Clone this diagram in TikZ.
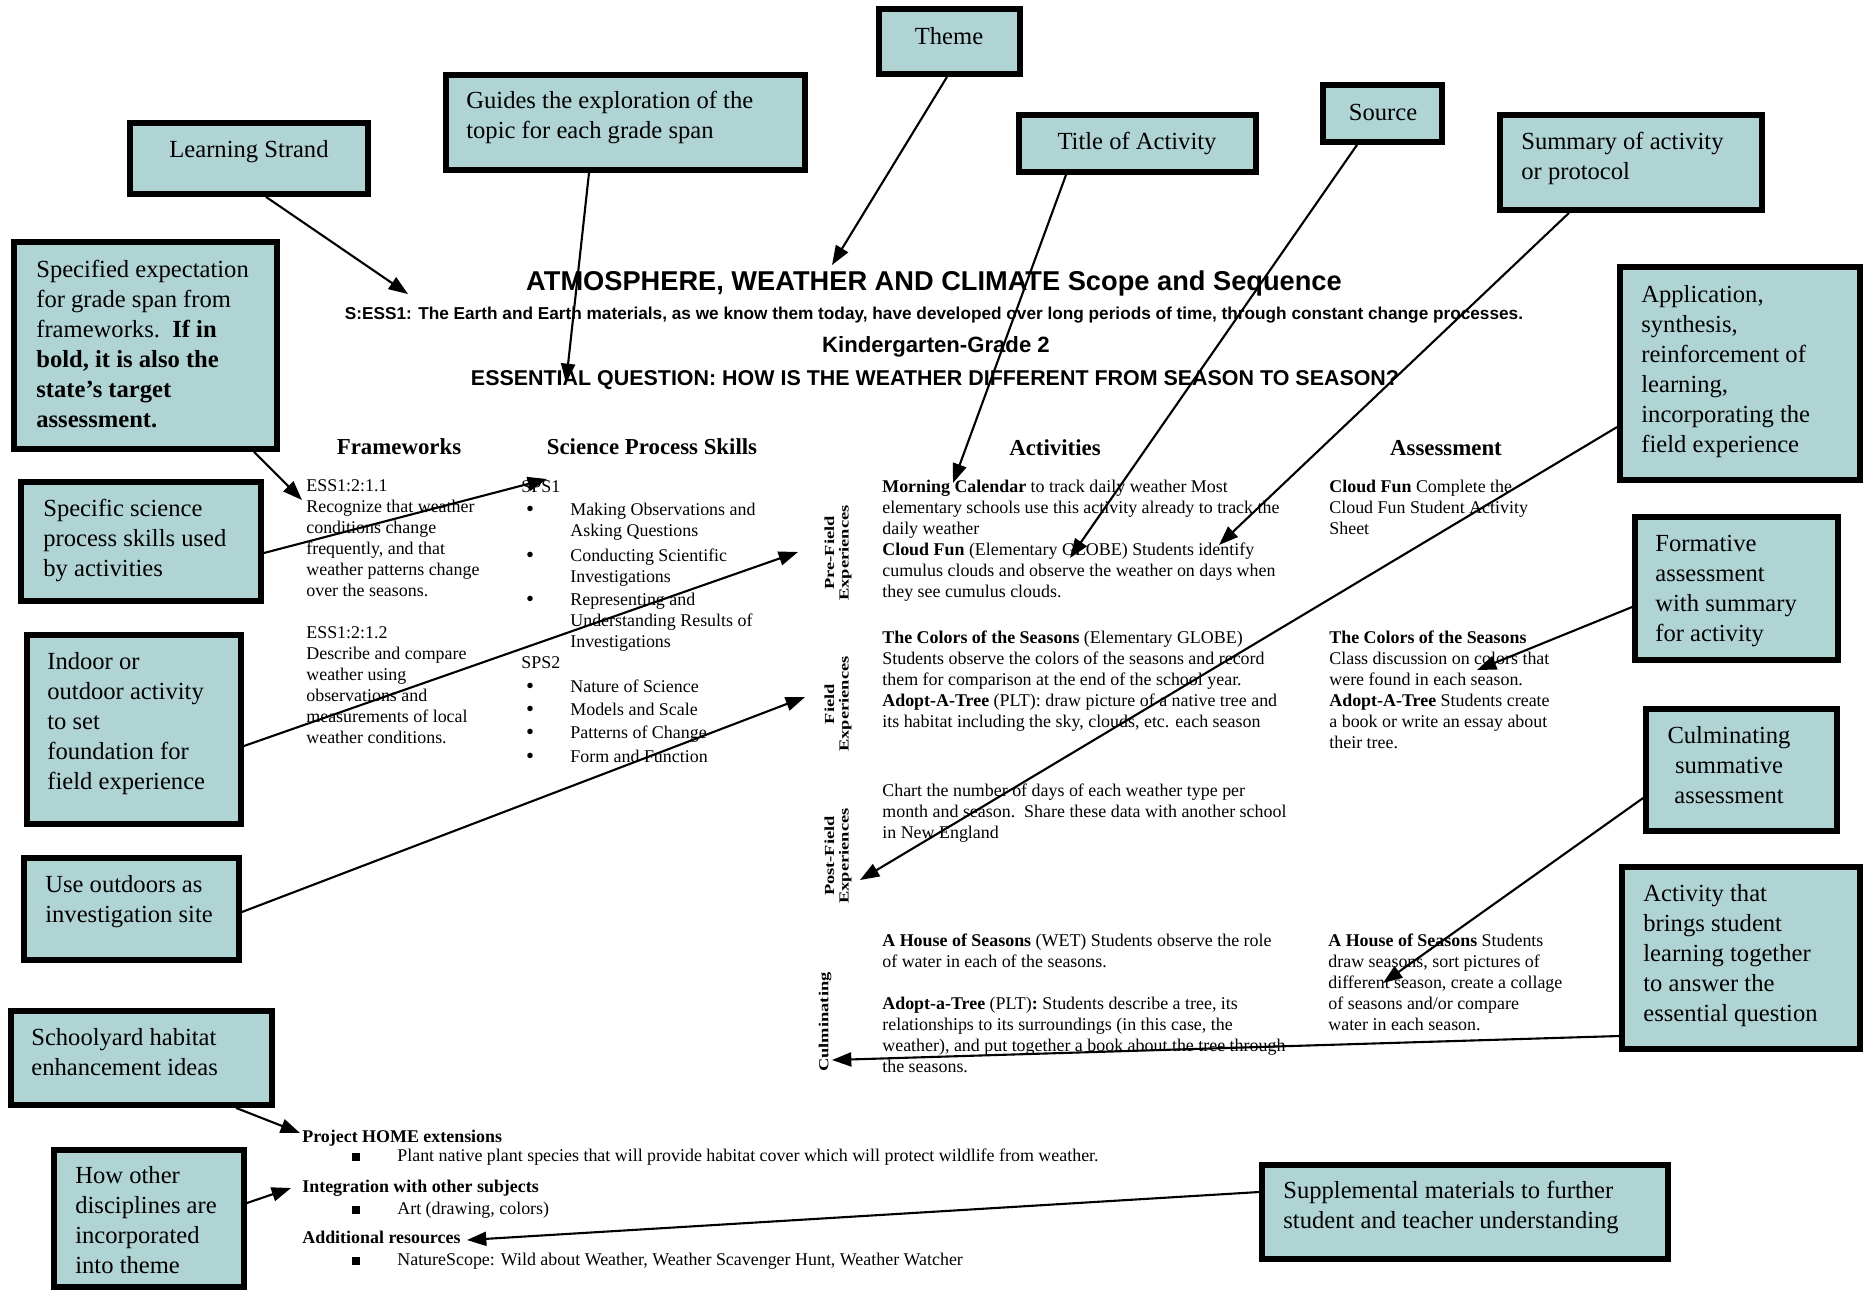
\documentclass[tikz,border=0pt]{standalone}
\usepackage{fontspec}
\setmainfont{Liberation Serif}
\setsansfont{Liberation Sans}
\usetikzlibrary{arrows.meta,fit,calc}
\definecolor{boxfill}{RGB}{176,212,212}

\begin{document}
\begin{tikzpicture}[x=0.02cm,y=-0.02cm,
  callout/.style={draw=black, line width=3.3pt, fill=boxfill, inner sep=0pt},
  boxtext/.style={font=\rmfamily\fontsize{14}{17.1}\selectfont, align=left, inner sep=0pt, anchor=north west},
  body/.style={font=\rmfamily\fontsize{10.2}{11.95}\selectfont, align=left, inner sep=0pt, anchor=north west},
  colhead/.style={font=\rmfamily\bfseries\fontsize{13}{15}\selectfont, inner sep=0pt},
  headline/.style={font=\sffamily\bfseries, inner sep=0pt},
  sidelabel/.style={rotate=90, yscale=0.75, transform shape, align=center,
    font=\rmfamily\bfseries\fontsize{10.5}{11}\selectfont, inner sep=0pt},
  dot/.style={font=\rmfamily\fontsize{13}{13}\selectfont, inner sep=0pt},
  sqbullet/.style={fill=black, minimum size=4.5pt, inner sep=0pt, draw=none},
  pointer/.style={line width=1.2pt, -{Triangle[length=11pt,width=8pt]}}
]
\useasboundingbox (0,0) rectangle (1865,1289);

% ---------- callout boxes ----------
\node[callout, fit={(879,9) (1020,74)}] (theme) {};
\node[callout, fit={(446,75) (805,170)}] (guides) {};
\node[callout, fit={(130,123) (368,194)}] (strand) {};
\node[callout, fit={(1019,115) (1256,172)}] (titlebox) {};
\node[callout, fit={(1323,85) (1442,142)}] (source) {};
\node[callout, fit={(1500,115) (1762,210)}] (summary) {};
\node[callout, fit={(14,242) (277,449)}] (specified) {};
\node[callout, fit={(1620,267) (1860,480)}] (application) {};
\node[callout, fit={(21,482) (261,601)}] (skills) {};
\node[callout, fit={(1635,517) (1838,660)}] (formative) {};
\node[callout, fit={(27,635) (241,824)}] (indoor) {};
\node[callout, fit={(1646,709) (1837,831)}] (summative) {};
\node[callout, fit={(24,858) (239,960)}] (outdoors) {};
\node[callout, fit={(11,1011) (272,1105)}] (schoolyard) {};
\node[callout, fit={(54,1150) (244,1287)}] (disciplines) {};
\node[callout, fit={(1622,867) (1860,1049)}] (together) {};
\node[callout, fit={(1262,1165) (1668,1259)}] (supplemental) {};

% ---------- callout texts ----------
\node[boxtext, anchor=center] (themetxt) at (949,36) {Theme};
\node[boxtext] (guidestxt) at (466,91) {Guides the exploration of the\\topic for each grade span};
\node[boxtext, anchor=center] (strandtxt) at (249,152) {Learning Strand};
\node[boxtext, anchor=center] (titletxt) at (1137,143) {Title of Activity};
\node[boxtext, anchor=center] (sourcetxt) at (1383,112) {Source};
\node[boxtext] (summarytxt) at (1521,132) {Summary of activity\\or protocol};
\node[boxtext] (specifiedtxt) at (36,260) {Specified expectation\\for grade span from\\frameworks.\ \ \textbf{If in}\\\textbf{bold, it is also the}\\\textbf{state’s target}\\\textbf{assessment.}};
\node[boxtext] (applicationtxt) at (1641,285) {Application,\\synthesis,\\reinforcement of\\learning,\\incorporating the\\field experience};
\node[boxtext] (skillstxt) at (43,499) {Specific science\\process skills used\\by activities};
\node[boxtext] (formativetxt) at (1655,535) {Formative\\assessment\\with summary\\for activity};
\node[boxtext] (indoortxt) at (47,652) {Indoor or\\outdoor activity\\to set\\foundation for\\field experience};
\node[boxtext, anchor=north, align=center] (summativetxt) at (1729,726) {Culminating\\summative\\assessment};
\node[boxtext] (outdoorstxt) at (45,875) {Use outdoors as\\investigation site};
\node[boxtext] (schoolyardtxt) at (31,1028) {Schoolyard habitat\\enhancement ideas};
\node[boxtext] (disciplinestxt) at (75,1166) {How other\\disciplines are\\incorporated\\into theme};
\node[boxtext] (togethertxt) at (1643,884) {Activity that\\brings student\\learning together\\to answer the\\essential question};
\node[boxtext] (supplementaltxt) at (1283,1181) {Supplemental materials to further\\student and teacher understanding};

% ---------- heading block ----------
\node[headline, font=\sffamily\bfseries\fontsize{15.5}{18}\selectfont] (maintitle) at (934,283) {ATMOSPHERE, WEATHER AND CLIMATE Scope and Sequence};
\node[headline, font=\sffamily\bfseries\fontsize{9.8}{12}\selectfont] (standard) at (934,315) {S:ESS1: The Earth and Earth materials, as we know them today, have developed over long periods of time, through constant change processes.};
\node[headline, font=\sffamily\bfseries\fontsize{12.6}{14}\selectfont] (grade) at (936,347) {Kindergarten-Grade 2};
\node[headline, font=\sffamily\bfseries\fontsize{12.2}{14}\selectfont] (question) at (935,380) {ESSENTIAL QUESTION: HOW IS THE WEATHER DIFFERENT FROM SEASON TO SEASON?};

% ---------- column headings ----------
\node[colhead] (hframe) at (399,447) {Frameworks};
\node[colhead] (hskills) at (652,447) {Science Process Skills};
\node[colhead] (hact) at (1055,448) {Activities};
\node[colhead] (hassess) at (1446,448) {Assessment};

% ---------- frameworks ----------
\node[body] (fw1) at (306,479) {ESS1:2:1.1\\Recognize that weather\\conditions change\\frequently, and that\\weather patterns change\\over the seasons.};
\node[body] (fw2) at (306,626) {ESS1:2:1.2\\Describe and compare\\weather using\\observations and\\measurements of local\\weather conditions.};

% ---------- science process skills ----------
\node[body] (sps1) at (521,480) {SPS1};
\node[dot] (d1) at (530,511) {\textbullet};
\node[body] (s1) at (570,503) {Making Observations and\\Asking Questions};
\node[dot] (d2) at (530,557) {\textbullet};
\node[body] (s2) at (570,549) {Conducting Scientific\\Investigations};
\node[dot] (d3) at (530,601) {\textbullet};
\node[body] (s3) at (570,593) {Representing and\\Understanding Results of\\Investigations};
\node[body] (sps2) at (521,656) {SPS2};
\node[dot] (d4) at (530,688) {\textbullet};
\node[body] (s4) at (570,680) {Nature of Science};
\node[dot] (d5) at (530,711) {\textbullet};
\node[body] (s5) at (570,703) {Models and Scale};
\node[dot] (d6) at (530,734) {\textbullet};
\node[body] (s6) at (570,726) {Patterns of Change};
\node[dot] (d7) at (530,758) {\textbullet};
\node[body] (s7) at (570,750) {Form and Function};

% ---------- phase labels ----------
\node[sidelabel] (lpre) at (838,553) {Pre-Field\\Experiences};
\node[sidelabel] (lfield) at (838,704) {Field\\Experiences};
\node[sidelabel] (lpost) at (838,856) {Post-Field\\Experiences};
\node[sidelabel] (lculm) at (825,1022) {Culminating};

% ---------- activities ----------
\node[body] (apre) at (882,480) {\textbf{Morning Calendar} to track daily weather Most\\elementary schools use this activity already to track the\\daily weather\\\textbf{Cloud Fun} (Elementary GLOBE) Students identify\\cumulus clouds and observe the weather on days when\\they see cumulus clouds.};
\node[body] (afield) at (882,631) {\textbf{The Colors of the Seasons} (Elementary GLOBE)\\Students observe the colors of the seasons and record\\them for comparison at the end of the school year.\\\textbf{Adopt-A-Tree} (PLT): draw picture of a native tree and\\its habitat including the sky, clouds, etc. each season};
\node[body] (apost) at (882,784) {Chart the number of days of each weather type per\\month and season.\ \ Share these data with another school\\in New England};
\node[body] (aculm) at (882,934) {\textbf{A House of Seasons} (WET) Students observe the role\\of water in each of the seasons.\\[11.95pt]\textbf{Adopt-a-Tree} (PLT)\textbf{:} Students describe a tree, its\\relationships to its surroundings (in this case, the\\weather), and put together a book about the tree through\\the seasons.};

% ---------- assessment ----------
\node[body] (spre) at (1329,480) {\textbf{Cloud Fun} Complete the\\Cloud Fun Student Activity\\Sheet};
\node[body] (sfield) at (1329,631) {\textbf{The Colors of the Seasons}\\Class discussion on colors that\\were found in each season.\\\textbf{Adopt-A-Tree} Students create\\a book or write an essay about\\their tree.};
\node[body] (sculm) at (1328,934) {\textbf{A House of Seasons} Students\\draw seasons, sort pictures of\\different season, create a collage\\of seasons and/or compare\\water in each season.};

% ---------- extensions ----------
\node[body] (home) at (302,1130) {\textbf{Project HOME extensions}};
\node[sqbullet] (b1) at (356,1157) {};
\node[body] (homeitem) at (397,1149) {Plant native plant species that will provide habitat cover which will protect wildlife from weather.};
\node[body] (integ) at (302,1180) {\textbf{Integration with other subjects}};
\node[sqbullet] (b2) at (356,1210) {};
\node[body] (integitem) at (397,1202) {Art (drawing, colors)};
\node[body] (addres) at (302,1231) {\textbf{Additional resources}};
\node[sqbullet] (b3) at (356,1261) {};
\node[body] (addresitem) at (397,1253) {NatureScope: Wild about Weather, Weather Scavenger Hunt, Weather Watcher};

% ---------- arrow targets ----------
\coordinate (tStrand) at (408,294);
\coordinate (tGuides) at (566,383);
\coordinate (tTheme) at (832,265);
\coordinate (tTitle) at (953,483);
\coordinate (tSource) at (1070,558);
\coordinate (tSummary) at (1219,545);
\coordinate (tSpecified) at (302,500);
\coordinate (tSkills) at (547,479);
\coordinate (tApplication) at (860,880);
\coordinate (tIndoor) at (798,552);
\coordinate (tOutdoors) at (805,697);
\coordinate (tFormative) at (1477,670);
\coordinate (tSummative) at (1383,983);
\coordinate (tTogether) at (832,1060);
\coordinate (tSchoolyard) at (300,1133);
\coordinate (tDisciplines) at (291,1188);
\coordinate (tSupplemental) at (467,1240);

% ---------- connectors ----------
\draw[pointer] (strand.south -| 266,0) -- (tStrand);
\draw[pointer] (guides.south -| 589,0) -- (tGuides);
\draw[pointer] (theme.south -| 947,0) -- (tTheme);
\draw[pointer] (titlebox.south -| 1066,0) -- (tTitle);
\draw[pointer] (source.south -| 1357,0) -- (tSource);
\draw[pointer] (summary.south -| 1569,0) -- (tSummary);
\draw[pointer] (specified.south -| 254,0) -- (tSpecified);
\draw[pointer] (skills.east |- 0,553) -- (tSkills);
\draw[pointer] (application.west |- 0,427) -- (tApplication);
\draw[pointer] (indoor.east |- 0,746) -- (tIndoor);
\draw[pointer] (outdoors.east |- 0,912) -- (tOutdoors);
\draw[pointer] (formative.west |- 0,607) -- (tFormative);
\draw[pointer] (summative.west |- 0,798) -- (tSummative);
\draw[pointer] (together.west |- 0,1036) -- (tTogether);
\draw[pointer] (schoolyard.south -| 236,0) -- (tSchoolyard);
\draw[pointer] (disciplines.east |- 0,1203) -- (tDisciplines);
\draw[pointer] (supplemental.west |- 0,1192) -- (tSupplemental);
\end{tikzpicture}
\end{document}
